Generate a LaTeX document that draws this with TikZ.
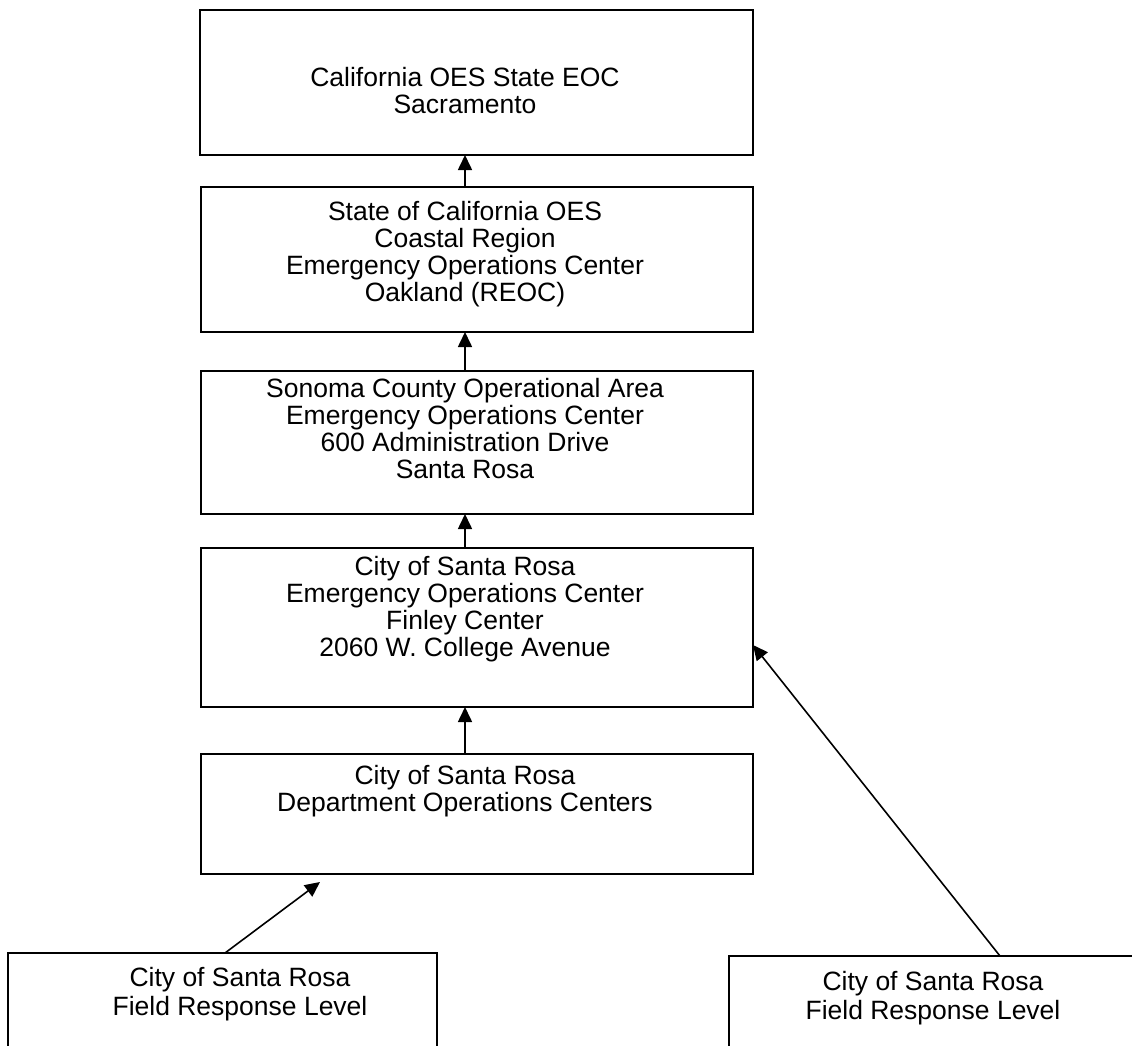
\documentclass[tikz,border=0pt]{standalone}
\usepackage{fontspec}
\setmainfont{Liberation Sans}
\usetikzlibrary{arrows.meta}
\tikzset{
  box/.style={draw=black, line width=2pt, rectangle, inner sep=0pt, outer sep=0pt, anchor=north west},
  txt/.style={anchor=north, inner sep=0pt, align=center, font=\fontsize{26.5}{27}\selectfont},
  txtb/.style={anchor=north, inner sep=0pt, align=center, font=\fontsize{26.5}{29}\selectfont},
  arr/.style={line width=1.6pt, -{Triangle[width=14pt,length=15pt]}}
}
\begin{document}
\begin{tikzpicture}[x=1pt,y=-1pt]
\useasboundingbox (0,0) rectangle (1132,1046);
\clip (0,0) rectangle (1132,1046);
% boxes
\node[box, minimum width=553pt, minimum height=145pt] (b1) at (200,10) {};
\node[box, minimum width=552pt, minimum height=145pt] (b2) at (201,187) {};
\node[box, minimum width=552pt, minimum height=143pt] (b3) at (201,371) {};
\node[box, minimum width=552pt, minimum height=159pt] (b4) at (201,548) {};
\node[box, minimum width=552pt, minimum height=120pt] (b5) at (201,754) {};
\node[box, minimum width=429pt, minimum height=120pt] (b6) at (8,953) {};
\node[box, minimum width=420pt, minimum height=120pt] (b7) at (729,956) {};
% texts
\node[txt] (t1) at (465,67) {California OES State EOC\\Sacramento};
\node[txt] (t2) at (465,201) {State of California OES\\Coastal Region\\Emergency Operations Center\\Oakland (REOC)};
\node[txt] (t3) at (465,378) {Sonoma County Operational Area\\Emergency Operations Center\\600 Administration Drive\\Santa Rosa};
\node[txt] (t4) at (465,556) {City of Santa Rosa\\Emergency Operations Center\\Finley Center\\2060 W. College Avenue};
\node[txt] (t5) at (465,765) {City of Santa Rosa\\Department Operations Centers};
\node[txtb] (t6) at (240,967) {City of Santa Rosa\\Field Response Level};
\node[txtb] (t7) at (933,971) {City of Santa Rosa\\Field Response Level};
% helper coordinates
\coordinate (ax) at (465,0);
\coordinate (s6) at (225,0);
\coordinate (e6) at (320,882);
\coordinate (s7) at (1000,0);
\coordinate (e7) at (0,645);
% connectors
\draw[arr] (b2.north -| ax) -- (b1.south -| ax);
\draw[arr] (b3.north -| ax) -- (b2.south -| ax);
\draw[arr] (b4.north -| ax) -- (b3.south -| ax);
\draw[arr] (b5.north -| ax) -- (b4.south -| ax);
\draw[arr] (b6.north -| s6) -- (e6);
\draw[arr] (b7.north -| s7) -- (b4.east |- e7);
\end{tikzpicture}
\end{document}
